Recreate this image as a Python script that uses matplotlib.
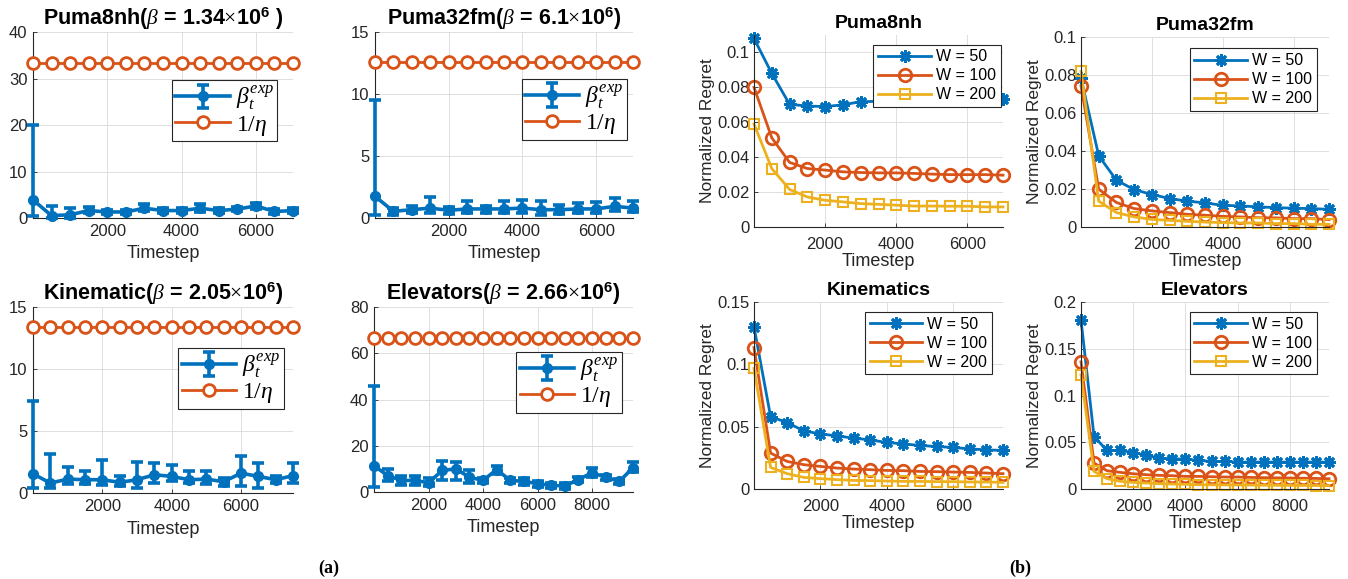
import matplotlib

matplotlib.use("Agg")
import matplotlib.pyplot as plt
import numpy as np
from matplotlib.ticker import FormatStrFormatter

plt.rcParams["font.family"] = ["Liberation Sans", "DejaVu Sans"]
plt.rcParams["mathtext.fontset"] = "custom"
plt.rcParams["mathtext.rm"] = "Liberation Serif"
plt.rcParams["mathtext.it"] = "Liberation Serif:italic"
plt.rcParams["mathtext.bf"] = "Liberation Sans:bold"

BLUE, ORANGE, YELLOW = "#0072BD", "#D95319", "#EDB120"
AXC = "#262626"

# ---------------- (a) beta_t^exp vs 1/eta ----------------
a_titles = [r"Puma8nh($\beta$ = 1.34$\times$10$^{\mathbf{6}}$ )",
            r"Puma32fm($\beta$ = 6.1$\times$10$^{\mathbf{6}}$)",
            r"Kinematic($\beta$ = 2.05$\times$10$^{\mathbf{6}}$)",
            r"Elevators($\beta$ = 2.66$\times$10$^{\mathbf{6}}$)"]
a_xmax = [7000, 7000, 7500, 9500]
a_inv_eta = [33.3, 12.6, 13.4, 66.7]

puma8_mean = [3.9, 0.5, 0.7, 1.6, 1.3, 1.3, 2.1, 1.6, 1.6, 2.1, 1.6, 1.9, 2.6, 1.4, 1.6]
puma8_lo = [0.5, 0.0, 0.0, 1.1, 0.9, 0.9, 1.4, 1.1, 1.1, 1.2, 1.1, 1.4, 1.9, 0.9, 1.0]
puma8_hi = [19.9, 2.5, 2.1, 2.4, 1.8, 1.8, 3.1, 2.1, 2.1, 3.1, 2.1, 2.4, 3.2, 1.9, 2.2]

puma32_mean = [1.75, 0.54, 0.67, 0.8, 0.62, 0.73, 0.73, 0.73, 0.8, 0.67, 0.67, 0.73, 0.73, 0.94, 0.8]
puma32_lo = [0.27, 0.27, 0.4, 0.4, 0.35, 0.4, 0.4, 0.4, 0.4, 0.27, 0.35, 0.4, 0.4, 0.54, 0.46]
puma32_hi = [9.5, 0.8, 0.94, 1.7, 0.9, 1.35, 1.0, 1.35, 1.42, 1.35, 1.08, 1.2, 1.26, 1.6, 1.4]

kin_mean = [1.55, 0.8, 1.12, 1.07, 1.07, 0.86, 1.07, 1.47, 1.34, 1.07, 1.12, 0.91, 1.6, 1.34, 1.07, 1.4]
kin_lo = [0.4, 0.4, 0.75, 0.7, 0.67, 0.54, 0.4, 0.8, 0.94, 0.8, 0.75, 0.59, 0.59, 0.4, 0.8, 0.8]
kin_hi = [7.45, 3.15, 2.1, 1.8, 2.7, 1.34, 2.5, 2.4, 2.28, 1.74, 1.8, 1.2, 2.95, 2.4, 1.34, 2.4]

elev_mean = [11.4, 7.1, 5.0, 5.0, 4.0, 9.3, 10.0, 6.4, 5.0, 9.7, 5.0, 4.6, 3.6, 2.9, 2.6,
             5.4, 8.3, 6.4, 4.6, 10.5]
elev_lo = [2.1, 4.6, 2.9, 2.9, 2.6, 5.0, 5.0, 4.0, 4.0, 7.9, 4.0, 3.1, 2.1, 1.7, 1.4,
           4.3, 6.4, 5.4, 3.6, 8.6]
elev_hi = [46.0, 10.0, 7.1, 7.1, 6.0, 13.6, 12.9, 9.3, 6.0, 11.4, 6.0, 6.0, 4.6, 4.0, 4.0,
           6.4, 10.3, 7.4, 5.7, 13.1]

a_series = [(puma8_mean, puma8_lo, puma8_hi), (puma32_mean, puma32_lo, puma32_hi),
            (kin_mean, kin_lo, kin_hi), (elev_mean, elev_lo, elev_hi)]
a_ylim = [40, 15, 15, 80]
a_yticks = [[0, 10, 20, 30, 40], [0, 5, 10, 15], [0, 5, 10, 15], [0, 20, 40, 60, 80]]

# ---------------- (b) normalized regret ----------------
b_titles = ["Puma8nh", "Puma32fm", "Kinematics", "Elevators"]
b_xmax = [7000, 7000, 7500, 9500]
b_ylim = [0.11, 0.1, 0.15, 0.2]
b_yticks = [[0, 0.02, 0.04, 0.06, 0.08, 0.1], [0, 0.02, 0.04, 0.06, 0.08, 0.1],
            [0, 0.05, 0.1, 0.15], [0, 0.05, 0.1, 0.15, 0.2]]
w_labels = ["W = 50", "W = 100", "W = 200"]

p8_w50 = [0.108, 0.088, 0.0703, 0.0693, 0.069, 0.070, 0.0718, 0.072, 0.0725, 0.073, 0.073,
          0.073, 0.073, 0.073, 0.0734]
p8_w100 = [0.080, 0.0511, 0.037, 0.0335, 0.0326, 0.0316, 0.0312, 0.031, 0.031, 0.0307, 0.0303,
           0.030, 0.030, 0.030, 0.0297]
p8_w200 = [0.059, 0.0335, 0.0215, 0.0172, 0.0153, 0.0144, 0.0134, 0.013, 0.0125, 0.012, 0.012,
           0.0119, 0.0119, 0.0115, 0.0115]

p32_w50 = [0.0783, 0.0375, 0.0246, 0.0197, 0.0171, 0.015, 0.0136, 0.0127, 0.0114, 0.0111,
           0.0106, 0.0102, 0.0099, 0.0097, 0.0093]
p32_w100 = [0.0743, 0.0199, 0.0129, 0.0097, 0.0085, 0.0076, 0.0067, 0.0062, 0.0056, 0.0053,
            0.0049, 0.0048, 0.0044, 0.0044, 0.0039]
p32_w200 = [0.0819, 0.0136, 0.0076, 0.0053, 0.004, 0.0035, 0.003, 0.0026, 0.0023, 0.0021,
            0.0021, 0.0018, 0.0018, 0.0014, 0.0014]

kin_w50 = [0.130, 0.058, 0.0533, 0.0466, 0.0442, 0.0426, 0.0408, 0.0394, 0.0373, 0.0362,
           0.0349, 0.0341, 0.0333, 0.0322, 0.0314, 0.0309]
kin_w100 = [0.1135, 0.0288, 0.0221, 0.0195, 0.0181, 0.0168, 0.016, 0.0155, 0.0149, 0.0147,
            0.0141, 0.0139, 0.0136, 0.0133, 0.0128, 0.0123]
kin_w200 = [0.0967, 0.0173, 0.0123, 0.0093, 0.0083, 0.0075, 0.0069, 0.0067, 0.0064, 0.0061,
            0.0061, 0.0059, 0.0059, 0.0056, 0.0056, 0.0053]

el_w50 = [0.181, 0.056, 0.0412, 0.0412, 0.039, 0.0359, 0.033, 0.0323, 0.032, 0.0306, 0.0295,
          0.0295, 0.0288, 0.0288, 0.0288, 0.0288, 0.0288, 0.0288, 0.0288, 0.0288]
el_w100 = [0.136, 0.0277, 0.0195, 0.0178, 0.0163, 0.0153, 0.0146, 0.0142, 0.0135, 0.0135,
           0.0131, 0.0128, 0.0128, 0.0124, 0.0121, 0.0119, 0.0117, 0.0115, 0.0113, 0.011]
el_w200 = [0.122, 0.0188, 0.011, 0.0082, 0.0071, 0.0064, 0.0057, 0.0053, 0.005, 0.0046,
           0.0045, 0.0044, 0.0043, 0.0042, 0.0041, 0.004, 0.0039, 0.0038, 0.0037, 0.0036]

b_series = [(p8_w50, p8_w100, p8_w200), (p32_w50, p32_w100, p32_w200),
            (kin_w50, kin_w100, kin_w200), (el_w50, el_w100, el_w200)]

W, H = 1348, 579
fig = plt.figure(figsize=(W / 100, H / 100), dpi=100)


def px_axes(l, r, t, b):
    return fig.add_axes([l / W, (H - b) / H, (r - l) / W, (b - t) / H])


def style(ax, xpad, ypad, labelpad):
    for s in ("top", "right"):
        ax.spines[s].set_visible(False)
    for s in ("left", "bottom"):
        ax.spines[s].set_color(AXC)
        ax.spines[s].set_linewidth(0.8)
    ax.tick_params(direction="in", length=3, width=0.6, colors=AXC, labelsize=12)
    ax.tick_params(axis="x", pad=xpad)
    ax.tick_params(axis="y", pad=ypad)
    ax.grid(True, color="#dedede", lw=0.7)
    ax.set_axisbelow(True)
    ax.set_xlabel("Timestep", fontsize=13, color=AXC, labelpad=labelpad)


a_boxes = [(33, 293, 32, 218), (375, 633, 32, 218), (33, 293, 307, 493), (374, 633, 307, 492)]
a_leg = [(0.94, 0.74), (0.977, 0.747), (0.965, 0.78), (0.957, 0.757)]
for i in range(4):
    ax = px_axes(*a_boxes[i])
    mean, lo, hi = (np.array(v) for v in a_series[i])
    x = np.arange(len(mean)) * 500
    ax.plot(x, np.full(len(x), a_inv_eta[i]), "-o", color=ORANGE, lw=2, ms=8.5, mfc="white",
            mew=2, label=r"$1/\eta$", zorder=3, clip_on=False)
    eb = ax.errorbar(x, mean, yerr=[mean - lo, hi - mean], fmt="-o", color=BLUE, lw=2.6, ms=7,
                     elinewidth=2.6, capsize=4, capthick=2.6, label=r"$\beta_t^{exp}$", zorder=4)
    for art in eb.get_children():
        art.set_clip_on(False)
    ax.set_xlim(0, a_xmax[i])
    ax.set_ylim(0, a_ylim[i])
    ax.set_yticks(a_yticks[i])
    ax.set_xticks([t for t in range(2000, a_xmax[i] + 1, 2000)])
    style(ax, xpad=4, ypad=4, labelpad=5)
    ax.set_title(a_titles[i], fontsize=15.5, fontweight="bold", pad=3)
    h, l = ax.get_legend_handles_labels()
    leg = ax.legend(h[::-1], l[::-1], loc="upper right", bbox_to_anchor=a_leg[i], fontsize=17,
                    handlelength=2.3, fancybox=False, edgecolor=AXC, framealpha=1,
                    borderpad=0.15, labelspacing=0.05, handletextpad=0.25, borderaxespad=0)
    leg.get_frame().set_linewidth(0.8)
    leg.set_zorder(10)

b_boxes = [(754, 1003, 35, 227), (1081, 1329, 37, 227), (754, 1003, 302, 489), (1081, 1329, 302, 489)]
b_leg = [(0.99, 0.95), (0.95, 0.94), (0.956, 0.947), (0.95, 0.947)]
for i in range(4):
    ax = px_axes(*b_boxes[i])
    s50, s100, s200 = b_series[i]
    x = np.arange(len(s50)) * 500
    ax.plot(x, s50, "-", marker=(8, 2, 0), color=BLUE, lw=2, ms=9, mew=2, label=w_labels[0],
            clip_on=False)
    ax.plot(x, s100, "-o", color=ORANGE, lw=2, ms=9, mfc="none", mew=2, label=w_labels[1],
            clip_on=False)
    ax.plot(x, s200, "-s", color=YELLOW, lw=2, ms=7, mfc="none", mew=1.5, label=w_labels[2],
            clip_on=False)
    ax.set_xlim(0, b_xmax[i])
    ax.set_ylim(0, b_ylim[i])
    ax.set_yticks(b_yticks[i])
    ax.yaxis.set_major_formatter(FormatStrFormatter("%g"))
    ax.set_xticks([t for t in range(2000, b_xmax[i] + 1, 2000)])
    style(ax, xpad=7, ypad=3, labelpad=1)
    ax.set_ylabel("Normalized Regret", fontsize=12.5, color=AXC, labelpad=2)
    ax.set_title(b_titles[i], fontsize=14, fontweight="bold", pad=5)
    leg = ax.legend(loc="upper right", bbox_to_anchor=b_leg[i], fontsize=11.5,
                    handlelength=3.3, fancybox=False, edgecolor=AXC, framealpha=1,
                    borderpad=0.3, labelspacing=0.25, handletextpad=0.3, borderaxespad=0)
    leg.get_frame().set_linewidth(0.8)
    leg.set_zorder(10)

fig.text(329 / W, 1 - 568 / H, "(a)", family="Liberation Serif", fontweight="bold",
         fontsize=13, ha="center", va="center")
fig.text(1020 / W, 1 - 568 / H, "(b)", family="Liberation Serif", fontweight="bold",
         fontsize=13, ha="center", va="center")

fig.savefig("out.png", dpi=100, facecolor="white")
